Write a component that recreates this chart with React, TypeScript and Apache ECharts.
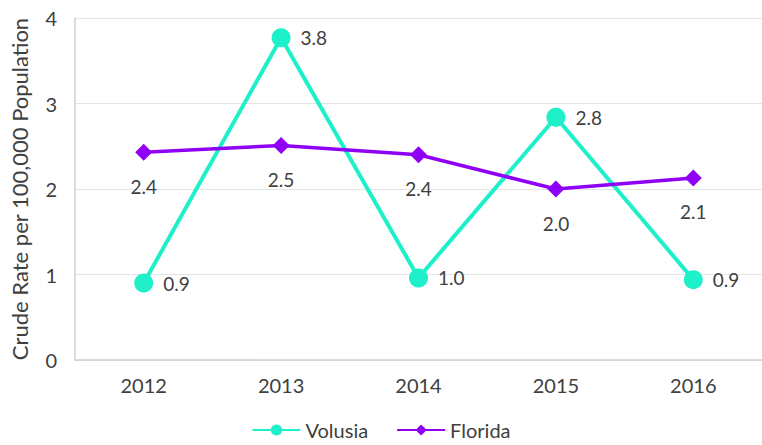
import React, { useEffect, useRef } from "react";
import * as echarts from "echarts";

const years = ["2012", "2013", "2014", "2015", "2016"];
const volusia = [0.9, 3.77, 0.96, 2.84, 0.94];
const florida = [2.43, 2.51, 2.4, 2.0, 2.13];
const yTicks = [0, 1, 2, 3, 4];

const FONT = "Lato, 'Open Sans', sans-serif";
const TEXT = "#404040";

export default function App() {
  const ref = useRef<HTMLDivElement>(null);
  useEffect(() => {
    if (!ref.current) return;
    const chart = echarts.init(ref.current, null, { renderer: "svg" });
    chart.setOption({
      animation: false,
      textStyle: { fontFamily: FONT },
      grid: { left: 69, right: -5, top: 18, bottom: 85 },
      legend: {
        bottom: 0,
        left: "center",
        itemWidth: 48,
        itemHeight: 14,
        itemGap: 28,
        textStyle: { fontSize: 20, color: TEXT, fontFamily: FONT },
        data: ["Volusia", "Florida"],
      },
      xAxis: {
        type: "category",
        data: years,
        boundaryGap: true,
        axisLine: { lineStyle: { color: "#D0D0D0", width: 1.5 } },
        axisTick: { show: false },
        axisLabel: { fontSize: 20, color: TEXT, margin: 15, fontFamily: FONT },
      },
      yAxis: {
        type: "value",
        min: yTicks[0],
        max: yTicks[yTicks.length - 1],
        interval: 1,
        name: "Crude Rate per 100,000 Population",
        nameLocation: "middle",
        nameGap: 45,
        nameRotate: 90,
        nameTextStyle: { fontSize: 22, color: TEXT, fontFamily: FONT },
        axisLine: { show: true, lineStyle: { color: "#D0D0D0", width: 1.5 } },
        axisTick: { show: false },
        axisLabel: { fontSize: 20, color: TEXT, margin: 18, fontFamily: FONT },
        splitLine: { show: true, lineStyle: { color: "#E4E4E4", width: 1 } },
      },
      series: [
        {
          name: "Volusia",
          type: "line",
          data: volusia,
          symbol: "circle",
          symbolSize: 19,
          lineStyle: { color: "#1EF0CA", width: 4 },
          itemStyle: { color: "#1EF0CA" },
          label: {
            show: true,
            position: "right",
            distance: 10,
            fontSize: 19,
            color: TEXT,
            fontFamily: FONT,
            formatter: (p: any) => Number(p.value).toFixed(1),
          },
        },
        {
          name: "Florida",
          type: "line",
          data: florida,
          symbol: "diamond",
          symbolSize: 17,
          lineStyle: { color: "#8F00F5", width: 3.5 },
          itemStyle: { color: "#8F00F5" },
          label: {
            show: true,
            position: "bottom",
            distance: 16,
            fontSize: 19,
            color: TEXT,
            fontFamily: FONT,
            formatter: (p: any) => Number(p.value).toFixed(1),
          },
        },
      ],
    });
    return () => chart.dispose();
  }, []);
  return (
    <div
      ref={ref}
      style={{ position: "fixed", left: 0, top: 0, width: 762, height: 445, background: "#fff" }}
    />
  );
}
